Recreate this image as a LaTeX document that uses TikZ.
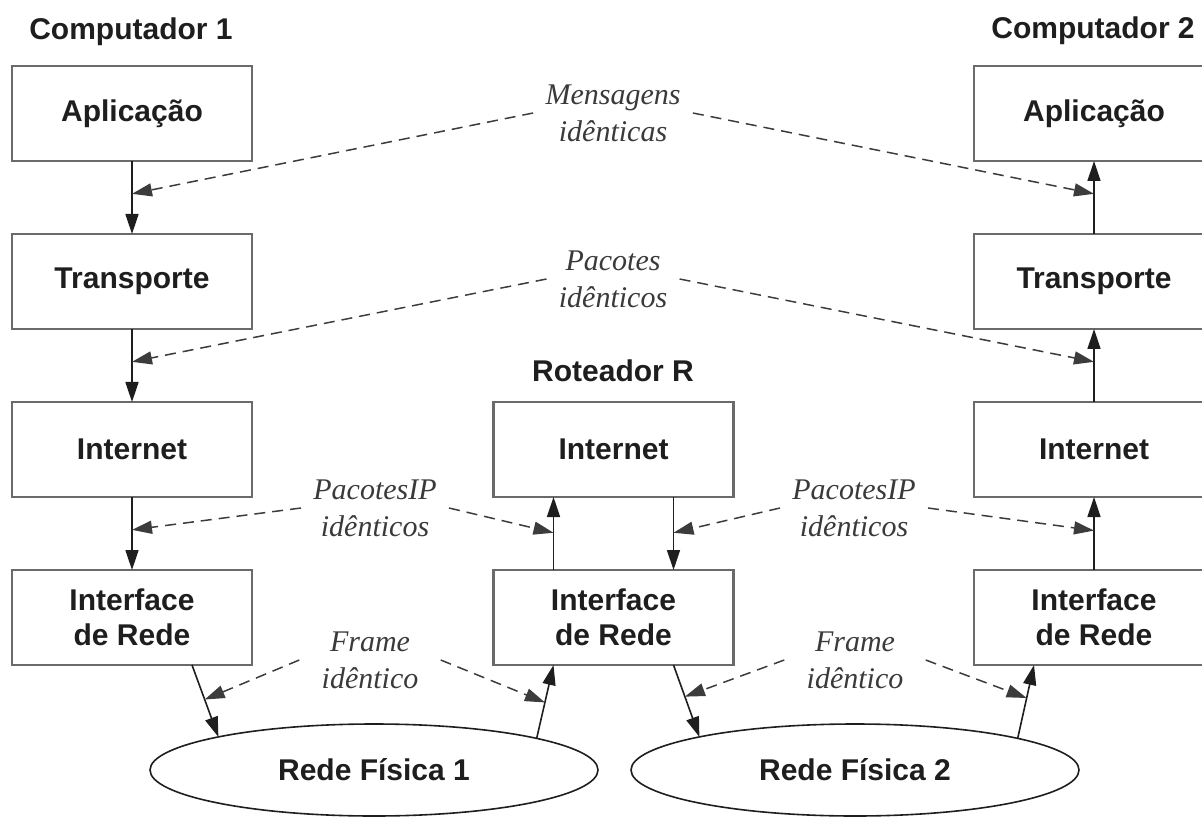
\documentclass[tikz,border=0pt]{standalone}
\usepackage{fontspec}
\setmainfont{Liberation Serif}
\setsansfont{Liberation Sans}
\usetikzlibrary{arrows.meta,calc,shapes.geometric}
\definecolor{boxline}{HTML}{6A6A6A}
\definecolor{ink}{HTML}{1E1E1E}
\definecolor{peerline}{HTML}{3C3C3C}
\definecolor{notetext}{HTML}{3A3A3A}
\begin{document}
\begin{tikzpicture}[x=0.5pt,y=-0.5pt,
  labelfont/.style={font=\sffamily\bfseries\fontsize{15}{17.5}\selectfont, text=ink},
  layer/.style={labelfont, draw=boxline, line width=1.1pt, minimum width=120pt,
    minimum height=47.5pt, inner sep=0pt, outer sep=0pt, align=center},
  title/.style={labelfont, anchor=base, inner sep=0pt},
  note/.style={font=\itshape\fontsize{15}{18.5}\selectfont, text=notetext,
    align=center, inner xsep=6pt, inner ysep=2pt},
  framenote/.style={note, inner xsep=11pt},
  net/.style={labelfont, ellipse, draw=ink, line width=0.8pt, minimum width=224pt,
    minimum height=46pt, inner sep=0pt, outer sep=0pt},
  flow/.style={-{Triangle[length=10pt,width=6.5pt]}, line width=0.8pt, draw=ink},
  peer/.style={-{Triangle[length=10pt,width=6.5pt]}, line width=0.75pt, draw=peerline,
    dash pattern=on 5.5pt off 3.5pt}
]
\clip (0,0) rectangle (1202,817);

% host and router titles
\node[title] (c1) at (131,40) {Computador 1};
\node[title] (c2) at (1093,39) {Computador 2};
\node[title] (rt) at (613,381) {Roteador R};

% protocol stack of host 1
\node[layer] (apL) at (132,113.5) {Aplicação};
\node[layer] (trL) at (132,281.5) {Transporte};
\node[layer] (inL) at (132,449.5) {Internet};
\node[layer] (ifL) at (132,617.5) {Interface\\de Rede};

% protocol stack of host 2
\node[layer] (apR) at (1094,113.5) {Aplicação};
\node[layer] (trR) at (1094,281.5) {Transporte};
\node[layer] (inR) at (1094,449.5) {Internet};
\node[layer] (ifR) at (1094,617.5) {Interface\\de Rede};

% router stack
\node[layer] (inM) at (613.5,449.5) {Internet};
\node[layer] (ifM) at (613.5,617.5) {Interface\\de Rede};

% physical networks
\node[net] (n1) at (374,770) {Rede Física 1};
\node[net] (n2) at (855,770) {Rede Física 2};

% downward path in host 1
\draw[flow] (apL) -- (trL);
\draw[flow] (trL) -- (inL);
\draw[flow] (inL) -- (ifL);

% upward path in host 2
\draw[flow] (ifR) -- (inR);
\draw[flow] (inR) -- (trR);
\draw[flow] (trR) -- (apR);

% router: up and down through its stack
\coordinate (ruS) at ($(ifM.north)+(-60,0)$);
\coordinate (ruE) at ($(inM.south)+(-60,0)$);
\coordinate (rdS) at ($(inM.south)+(60,0)$);
\coordinate (rdE) at ($(ifM.north)+(60,0)$);
\draw[flow] (ruS) -- (ruE);
\draw[flow] (rdS) -- (rdE);

% links between interfaces and physical networks
\coordinate (aS) at ($(ifL.south)+(60,0)$);
\coordinate (aE) at (n1.168);
\coordinate (bS) at (n1.11);
\coordinate (bE) at ($(ifM.south)+(-60,0)$);
\coordinate (cS) at ($(ifM.south)+(60,0)$);
\coordinate (cE) at (n2.168);
\coordinate (dS) at (n2.11);
\coordinate (dE) at ($(ifR.south)+(-60,0)$);
\draw[flow] (aS) -- (aE);
\draw[flow] (bS) -- (bE);
\draw[flow] (cS) -- (cE);
\draw[flow] (dS) -- (dE);

% peer-to-peer equivalence labels
\node[note] (m1) at (613,113) {Mensagens\\idênticas};
\node[note] (m2) at (613,279) {Pacotes\\idênticos};
\node[note] (m3) at (375,508) {PacotesIP\\idênticos};
\node[note] (m4) at (854,508) {PacotesIP\\idênticos};
\node[framenote] (m5) at (370,660) {Frame\\idêntico};
\node[framenote] (m6) at (855,660) {Frame\\idêntico};

% meeting points on the vertical and slanted arrows
\coordinate (p1L) at ($(apL.south)!0.45!(trL.north)$);
\coordinate (p1R) at ($(trR.north)!0.55!(apR.south)$);
\coordinate (p2L) at ($(trL.south)!0.45!(inL.north)$);
\coordinate (p2R) at ($(inR.north)!0.55!(trR.south)$);
\coordinate (p3L) at ($(inL.south)!0.45!(ifL.north)$);
\coordinate (p3a) at ($(ruS)!0.51!(ruE)$);
\coordinate (p3b) at ($(rdS)!0.49!(rdE)$);
\coordinate (p3R) at ($(ifR.north)!0.54!(inR.south)$);
\coordinate (p4a) at ($(aS)!0.48!(aE)$);
\coordinate (p4b) at ($(bS)!0.49!(bE)$);
\coordinate (p4c) at ($(cS)!0.44!(cE)$);
\coordinate (p4d) at ($(dS)!0.55!(dE)$);

\draw[peer] (m1.west) -- (p1L);
\draw[peer] (m1.east) -- (p1R);
\draw[peer] (m2.west) -- (p2L);
\draw[peer] (m2.east) -- (p2R);
\draw[peer] (m3.west) -- (p3L);
\draw[peer] (m3.east) -- (p3a);
\draw[peer] (m4.west) -- (p3b);
\draw[peer] (m4.east) -- (p3R);
\draw[peer] (m5.west) -- (p4a);
\draw[peer] (m5.east) -- (p4b);
\draw[peer] (m6.west) -- (p4c);
\draw[peer] (m6.east) -- (p4d);
\end{tikzpicture}
\end{document}
